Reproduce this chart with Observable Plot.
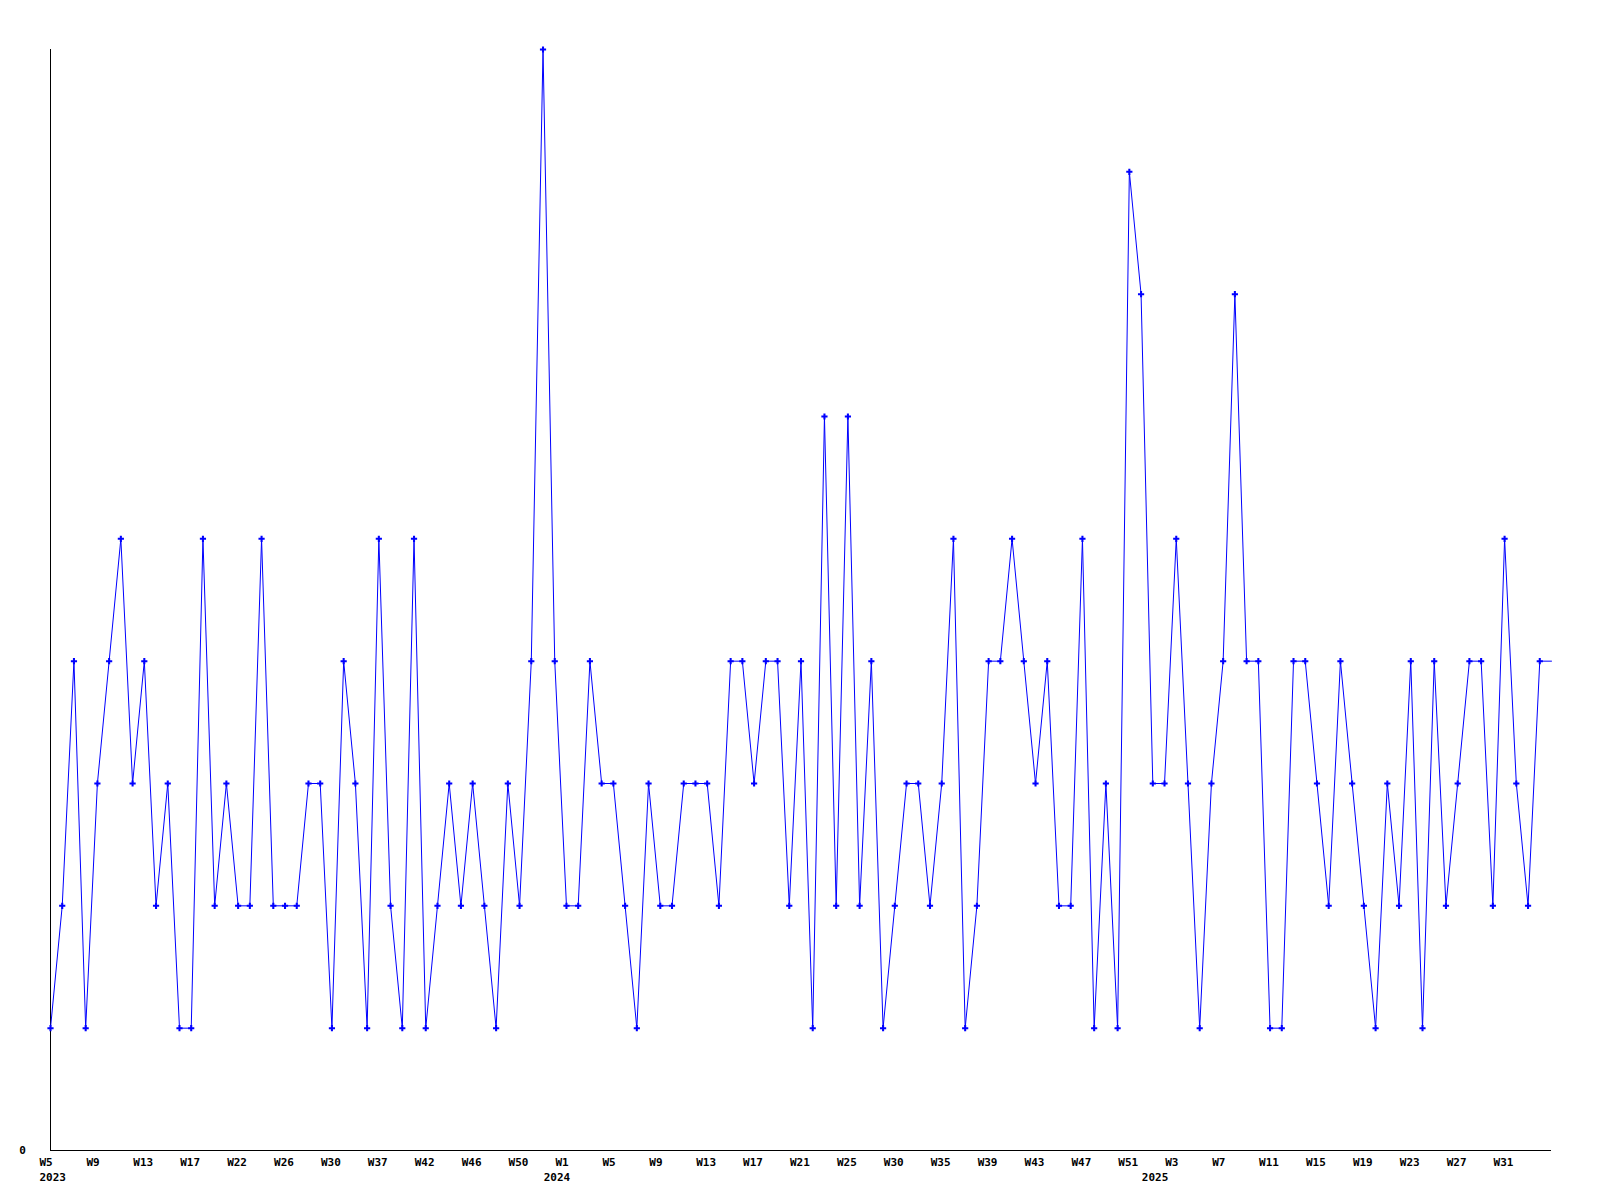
<!DOCTYPE html>
<html><head><meta charset="utf-8">
<script src="https://cdn.jsdelivr.net/npm/d3@7"></script>
<script src="https://cdn.jsdelivr.net/npm/@observablehq/plot@0.6"></script>
<style>body{margin:0;background:#fff}#chart svg{display:block}</style>
</head><body><div id="chart"></div>
<script>
// Weekly values, one per data point (evenly spaced)
const values = [
  1,2,4,1,3,4,5,3,4,2,3,1,1,5,2,3,2,2,5,2,
  2,2,3,3,1,4,3,1,5,2,1,5,1,2,3,2,3,2,1,3,
  2,4,9,4,2,2,4,3,3,2,1,3,2,2,3,3,3,2,4,4,
  3,4,4,2,4,1,6,2,6,2,4,1,2,3,3,2,3,5,1,2,
  4,4,5,4,3,4,2,2,5,1,3,1,8,7,3,3,5,3,1,3,
  4,7,4,4,1,1,4,4,3,2,4,3,2,1,3,2,4,1,4,2,
  3,4,4,2,5,3,2,4,4
];
// Tick positions (point index) and week labels
const tickIndex = [0,4,8,12,16,20,24,28,32,36,40,44,48,52,56,60,64,68,72,76,80,84,88,92,96,100,104,108,112,116,120,124];
const weekLabels = ["W5","W9","W13","W17","W22","W26","W30","W37","W42","W46","W50","W1","W5","W9","W13","W17","W21","W25","W30","W35","W39","W43","W47","W51","W3","W7","W11","W15","W19","W23","W27","W31"];
const yearIndex = [0,43,94];
const yearLabels = ["2023","2024","2025"];

const data = values.map((v, i) => ({i, v}));
const ticks = tickIndex.map((i, k) => ({i, label: weekLabels[k]}));
const years = yearIndex.map((i, k) => ({i, label: yearLabels[k]}));

const chart = Plot.plot({
  width: 1600, height: 1200,
  marginLeft: 50, marginRight: 49, marginTop: 49, marginBottom: 50,
  x: {domain: [0, values.length - 1], axis: null},
  y: {domain: [0, 9], axis: null},
  style: {fontFamily: "'DejaVu Sans Mono', monospace", fontSize: "11px", fontWeight: "bold", background: "#fff"},
  marks: [
    Plot.ruleY([0], {stroke: "black", strokeWidth: 1, shapeRendering: "crispEdges"}),
    Plot.ruleX([0], {stroke: "black", strokeWidth: 1, shapeRendering: "crispEdges"}),
    Plot.line(data, {x: "i", y: "v", stroke: "#0000ff", strokeWidth: 1, curve: "linear"}),
    Plot.dot(data.slice(0, -1), {x: "i", y: "v", symbol: "cross", r: 2.6, fill: "#0000ff", stroke: "none"}),
    Plot.text(ticks, {x: "i", y: () => 0, text: "label", textAnchor: "start", dx: -11, dy: 12, fill: "black"}),
    Plot.text(years, {x: "i", y: () => 0, text: "label", textAnchor: "start", dx: -11, dy: 27, fill: "black"}),
    Plot.text(["0"], {x: () => 0, y: () => 0, text: d => d, textAnchor: "middle", dx: -28, dy: 0, fill: "black"})
  ]
});
document.getElementById("chart").appendChild(chart);
</script>
</body></html>
